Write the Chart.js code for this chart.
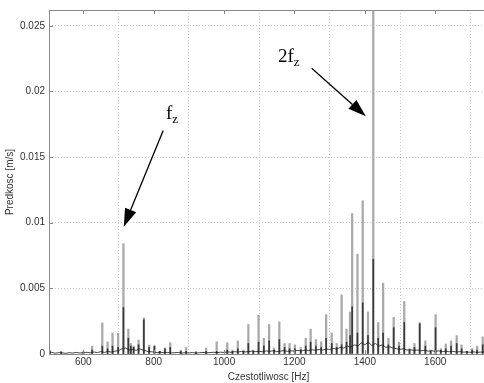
<!DOCTYPE html>
<html>
<head>
<meta charset="utf-8">
<script src="https://cdn.jsdelivr.net/npm/chart.js@4"></script>
<style>
    html, body { margin: 0; padding: 0; background: #fff; overflow: hidden; }
    #wrap { width: 490px; height: 383px; }
</style>
</head>
<body>
<div id="wrap"><canvas id="chart" width="490" height="383"></canvas></div>
<script>
// spectrum peaks: frequency [Hz], full (grey) height, dark lower part [m/s]
const peakFreq = [505, 537, 600, 625, 654, 669, 683, 699, 714, 728, 735, 743, 757, 772, 787, 802, 817, 832, 847,
    877, 892, 920, 949, 979, 1009, 1024, 1039, 1055, 1069, 1083, 1098, 1113, 1128, 1142, 1157, 1172, 1186, 1201,
    1218, 1232, 1246, 1261, 1276, 1290, 1306, 1320, 1334, 1348, 1358, 1364, 1379, 1394, 1409, 1424, 1438, 1452,
    1467, 1482, 1497, 1512, 1527, 1541, 1556, 1572, 1587, 1601, 1616, 1630, 1645, 1661, 1675, 1690, 1705, 1719, 1735];
const peakAmp = [0.0003, 0.0002, 0.0002, 0.0006, 0.00237, 0.00093, 0.0016, 0.00157, 0.0084, 0.0019, 0.0008, 0.0006,
    0.00106, 0.00275, 0.00068, 0.00063, 0.0002, 0.00045, 0.00086,
    0.0003, 0.0005, 0.0002, 0.00045, 0.00093, 0.00086, 0.0003, 0.001, 0.0003, 0.00225, 0.0003, 0.00295, 0.0012,
    0.00225, 0.00045, 0.00245, 0.0008, 0.0008, 0.0007,
    0.0005, 0.0012, 0.0019, 0.0011, 0.00093, 0.003, 0.0016, 0.0008, 0.0045, 0.0019, 0.0032, 0.0107, 0.0076, 0.01167,
    0.0032, 0.03, 0.0024, 0.0054,
    0.0012, 0.0028, 0.0009, 0.004, 0.0004, 0.0008, 0.0024, 0.001, 0.0003, 0.003, 0.0004, 0.00076, 0.001, 0.0014,
    0.0007, 0.0002, 0.0004, 0.0006, 0.0013];
const darkAmp = [0.0002, 0.00015, 0.0001, 0.0003, 0.0006, 0.0004, 0.0006, 0.0005, 0.00354, 0.0012, 0.0006, 0.0005,
    0.0007, 0.0026, 0.0005, 0.0006, 0.0002, 0.0004, 0.0005,
    0.0002, 0.0002, 0.0001, 0.0002, 0.0002, 0.0003, 0.0002, 0.0004, 0.0002, 0.0008, 0.0002, 0.0009, 0.0006,
    0.001, 0.0003, 0.0011, 0.0005, 0.0004, 0.0004,
    0.0003, 0.0006, 0.0009, 0.0006, 0.0005, 0.0012, 0.0008, 0.0005, 0.0007, 0.0009, 0.0014, 0.0036, 0.0016, 0.0039,
    0.0014, 0.0072, 0.0012, 0.0016,
    0.0007, 0.002, 0.0006, 0.0024, 0.0003, 0.0005, 0.0023, 0.0006, 0.0002, 0.002, 0.0003, 0.0004, 0.0006, 0.0008,
    0.0004, 0.0002, 0.0003, 0.0003, 0.0007];

// broadband noise floor, one value every 10 Hz from 500 Hz
const noiseStart = 500;
const noiseStep = 10;
const noiseAmp = [
    0.00008, 0.00012, 0.00006, 0.0001, 0.00009, 0.00005, 0.0001, 0.00007, 0.00012, 0.00008,
    0.0001, 0.00013, 0.00009, 0.00015, 0.00011, 0.00018, 0.00012, 0.0002, 0.00014, 0.00022,
    0.00025, 0.0004, 0.00045, 0.0003, 0.00035, 0.00028, 0.0004, 0.0003, 0.00022, 0.00018,
    0.00015, 0.0001, 0.00014, 0.00009, 0.00012, 0.00008, 0.0001, 0.00012, 0.00007, 0.0001,
    0.00008, 0.00011, 0.00007, 0.0001, 0.00012, 0.00009, 0.00011, 0.00013, 0.0001, 0.00014,
    0.00012, 0.00016, 0.00013, 0.00018, 0.00015, 0.0002, 0.00016, 0.00019, 0.00022, 0.00018,
    0.0002, 0.00017, 0.00023, 0.0002, 0.00025, 0.00019, 0.00022, 0.00026, 0.0002, 0.00024,
    0.00022, 0.00028, 0.00024, 0.0003, 0.00026, 0.00032, 0.00028, 0.00035, 0.0003, 0.00038,
    0.00034, 0.00042, 0.00038, 0.0005, 0.00045, 0.0006, 0.00052, 0.0007, 0.0006, 0.00085,
    0.0007, 0.0009, 0.00065, 0.0008, 0.0006, 0.0007, 0.0005, 0.00055, 0.00045, 0.0004,
    0.00035, 0.0004, 0.0003, 0.00032, 0.00028, 0.0003, 0.00025, 0.00028, 0.00022, 0.00025,
    0.0002, 0.00024, 0.00018, 0.00022, 0.00017, 0.0002, 0.00015, 0.00018, 0.00014, 0.00016,
    0.00013, 0.00016, 0.00012, 0.00015, 0.00013
];

const xTicks = [600, 800, 1000, 1200, 1400, 1600];
const yTicks = [0, 0.005, 0.01, 0.015, 0.02, 0.025];

// annotations: label, text anchor, arrow start, arrow tip (in data units)
const notes = [
    { main: 'f', sub: 'z', text: [835, 0.01788], from: [827, 0.01702], to: [715, 0.0097] },
    { main: '2f', sub: 'z', text: [1153, 0.02227], from: [1249, 0.02177], to: [1403, 0.0181] }
];

const greyData = peakFreq.map((f, i) => ({ x: f, y: peakAmp[i] }));
const darkData = peakFreq.map((f, i) => ({ x: f, y: darkAmp[i] }));
const noiseData = noiseAmp.map((v, i) => ({ x: noiseStart + i * noiseStep, y: v }));

const frame = {
    id: 'frame',
    afterDraw(chart) {
        const { ctx, chartArea: a, scales } = chart;
        ctx.save();
        ctx.strokeStyle = '#8a8a8a';
        ctx.lineWidth = 1;
        ctx.strokeRect(a.left + 0.5, a.top + 0.5, a.right - a.left, a.bottom - a.top);
        ctx.beginPath();
        xTicks.forEach(t => {
            const px = Math.round(scales.x.getPixelForValue(t)) + 0.5;
            ctx.moveTo(px, a.bottom); ctx.lineTo(px, a.bottom - 4);
            ctx.moveTo(px, a.top); ctx.lineTo(px, a.top + 4);
        });
        yTicks.forEach(t => {
            const py = Math.round(scales.y.getPixelForValue(t)) + 0.5;
            ctx.moveTo(a.left, py); ctx.lineTo(a.left + 4, py);
        });
        ctx.stroke();

        // arrows and labels
        ctx.fillStyle = '#000';
        ctx.strokeStyle = '#000';
        notes.forEach(n => {
            const x1 = scales.x.getPixelForValue(n.from[0]), y1 = scales.y.getPixelForValue(n.from[1]);
            const x2 = scales.x.getPixelForValue(n.to[0]), y2 = scales.y.getPixelForValue(n.to[1]);
            const ang = Math.atan2(y2 - y1, x2 - x1);
            const len = 18, half = 6;
            const bx = x2 - len * Math.cos(ang), by = y2 - len * Math.sin(ang);
            ctx.lineWidth = 1.3;
            ctx.beginPath();
            ctx.moveTo(x1, y1); ctx.lineTo(bx, by);
            ctx.stroke();
            ctx.beginPath();
            ctx.moveTo(x2, y2);
            ctx.lineTo(bx + half * Math.sin(ang), by - half * Math.cos(ang));
            ctx.lineTo(bx - half * Math.sin(ang), by + half * Math.cos(ang));
            ctx.closePath();
            ctx.fill();

            const tx = scales.x.getPixelForValue(n.text[0]), ty = scales.y.getPixelForValue(n.text[1]);
            ctx.textBaseline = 'alphabetic';
            ctx.textAlign = 'left';
            ctx.font = '19px "Liberation Serif"';
            ctx.fillText(n.main, tx, ty);
            const w = ctx.measureText(n.main).width;
            ctx.font = '13px "Liberation Serif"';
            ctx.fillText(n.sub, tx + w, ty + 4);
        });
        ctx.restore();
    }
};

const tickFont = { family: 'Liberation Sans', size: 10 };

new Chart(document.getElementById('chart'), {
    type: 'bar',
    data: {
        datasets: [
            { type: 'line', data: noiseData, borderColor: '#1a1a1a', borderWidth: 0.8, pointRadius: 0, order: 1 },
            { data: darkData, backgroundColor: '#3a3a3a', barThickness: 1, grouped: false, order: 2 },
            { data: greyData, backgroundColor: '#a9a9a9', barThickness: 1.6, grouped: false, order: 3 }
        ]
    },
    options: {
        responsive: false,
        animation: false,
        events: [],
        layout: { padding: { top: 8, right: 2, left: 0, bottom: 0 } },
        plugins: { legend: { display: false }, tooltip: { enabled: false } },
        scales: {
            x: {
                type: 'linear',
                offset: false,
                min: 502.5,
                max: 1750,
                afterBuildTicks: s => { s.ticks = xTicks.map(v => ({ value: v })); },
                afterFit: s => { s.height = 29; },
                ticks: { font: tickFont, color: '#333', padding: 2, maxRotation: 0, callback: v => String(v) },
                grid: { color: '#c8c8c8', drawTicks: false },
                border: { display: false, dash: [1, 2] },
                title: { display: true, text: 'Czestotliwosc [Hz]', font: tickFont, color: '#333', padding: { top: 1, bottom: 0 } }
            },
            y: {
                min: 0,
                max: 0.0262,
                afterBuildTicks: s => { s.ticks = yTicks.map(v => ({ value: v })); },
                afterFit: s => { s.width = 49; },
                ticks: { font: tickFont, color: '#333', padding: 4, callback: v => String(+v.toFixed(4)) },
                grid: { color: '#c8c8c8', drawTicks: false },
                border: { display: false, dash: [1, 2] },
                title: { display: true, text: 'Predkosc [m/s]', font: tickFont, color: '#333', padding: { top: 4, bottom: 0 } }
            }
        }
    },
    plugins: [frame]
});
</script>
</body>
</html>
